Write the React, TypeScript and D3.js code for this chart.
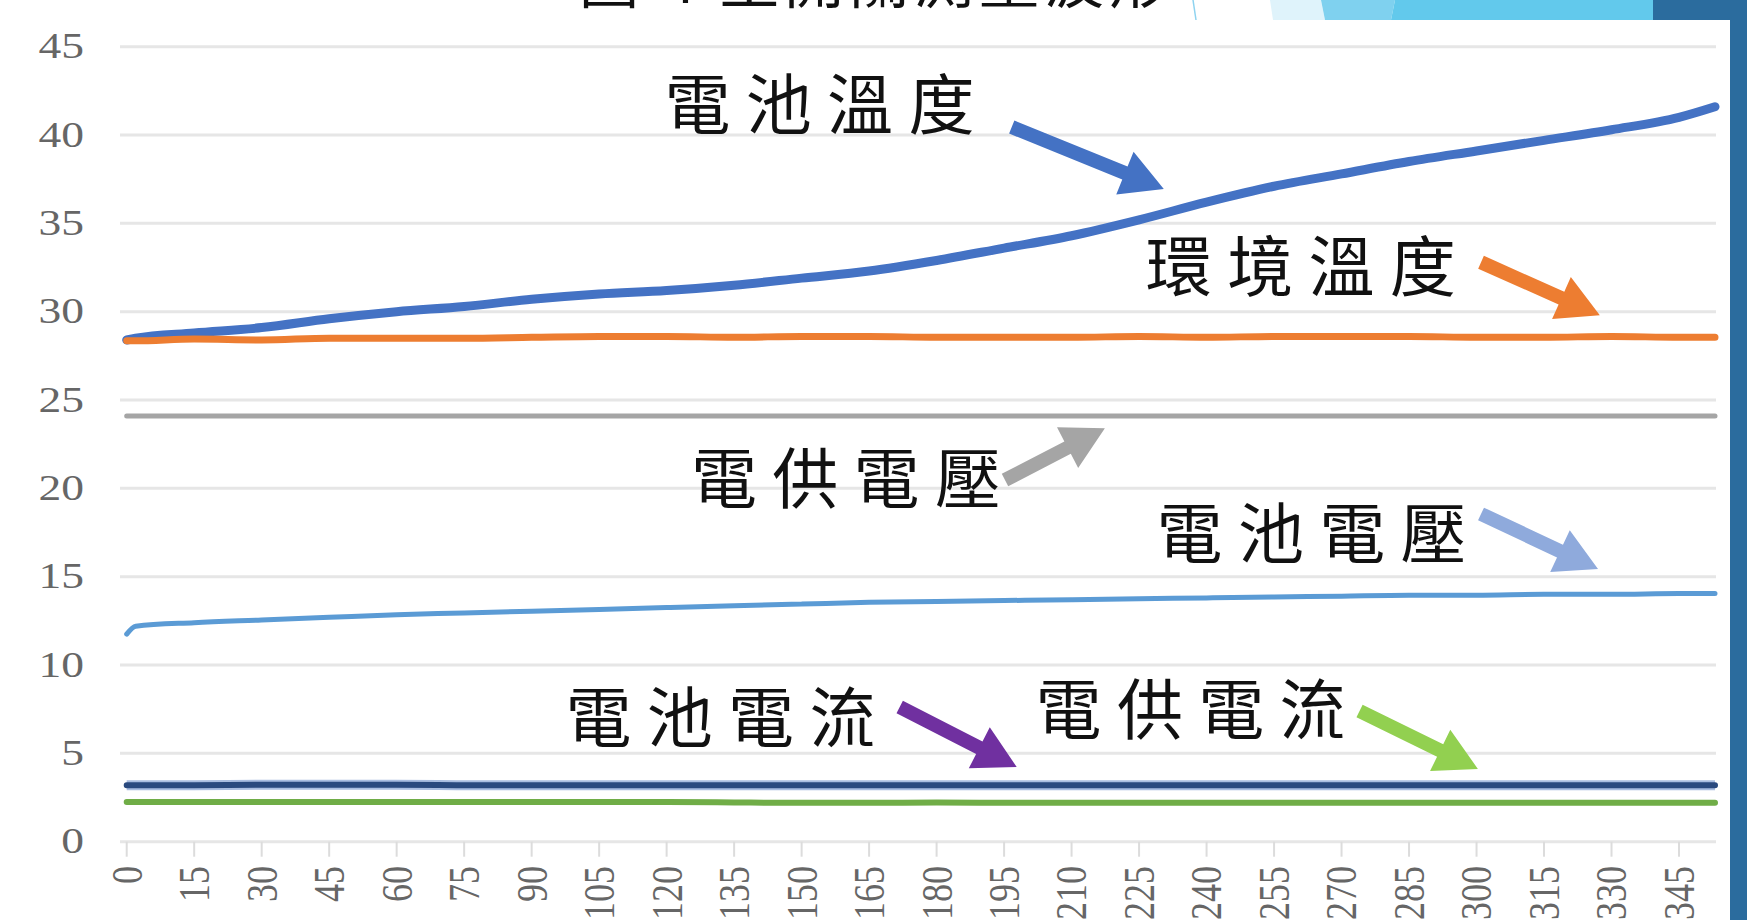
import React from "react";
import * as d3 from "d3";

// Sample times (minutes) and the six measured series
const sampleTimes = [0, 2, 15, 30, 45, 60, 75, 90, 105, 120, 135, 150, 165, 180, 195, 210, 225, 240, 255, 270, 285, 300, 315, 330, 345, 353];
const batteryTemp = [28.4, 28.5, 28.8, 29.1, 29.6, 30.0, 30.3, 30.7, 31.0, 31.2, 31.5, 31.9, 32.3, 32.9, 33.6, 34.3, 35.2, 36.2, 37.1, 37.8, 38.5, 39.1, 39.7, 40.3, 41.0, 41.6];
const ambientTemp = [28.35, 28.35, 28.45, 28.4, 28.5, 28.5, 28.5, 28.55, 28.6, 28.6, 28.55, 28.6, 28.6, 28.55, 28.55, 28.55, 28.6, 28.55, 28.6, 28.6, 28.6, 28.55, 28.55, 28.6, 28.55, 28.55];
const supplyVoltage = [24.1, 24.1, 24.1, 24.1, 24.1, 24.1, 24.1, 24.1, 24.1, 24.1, 24.1, 24.1, 24.1, 24.1, 24.1, 24.1, 24.1, 24.1, 24.1, 24.1, 24.1, 24.1, 24.1, 24.1, 24.1, 24.1];
const batteryVoltage = [11.75, 12.2, 12.4, 12.55, 12.7, 12.85, 12.95, 13.05, 13.15, 13.25, 13.35, 13.45, 13.55, 13.6, 13.65, 13.7, 13.75, 13.8, 13.85, 13.9, 13.95, 13.95, 14.0, 14.0, 14.05, 14.05];
const batteryCurrent = [3.2, 3.2, 3.2, 3.22, 3.22, 3.22, 3.2, 3.2, 3.2, 3.2, 3.2, 3.2, 3.2, 3.2, 3.2, 3.2, 3.2, 3.2, 3.2, 3.2, 3.2, 3.2, 3.2, 3.2, 3.2, 3.2];
const supplyCurrent = [2.25, 2.25, 2.25, 2.25, 2.25, 2.25, 2.25, 2.25, 2.25, 2.25, 2.22, 2.2, 2.2, 2.22, 2.2, 2.2, 2.2, 2.2, 2.2, 2.2, 2.2, 2.2, 2.2, 2.2, 2.2, 2.2];

const xTickLabels = [0, 15, 30, 45, 60, 75, 90, 105, 120, 135, 150, 165, 180, 195, 210, 225, 240, 255, 270, 285, 300, 315, 330, 345];
const yTickLabels = [0, 5, 10, 15, 20, 25, 30, 35, 40, 45];

const seriesNames = ["電池溫度", "環境溫度", "電供電壓", "電池電壓", "電池電流", "電供電流"];

// Callout positions in data units: label anchor (time, value), arrow start and arrow tip
const labelAt: [number, number][] = [[119.5, 42.0], [226.5, 32.8], [125.4, 20.8], [228.9, 17.7], [97.5, 7.3], [202, 7.74]];
const arrowFrom: [number, number][] = [[196.7, 40.45], [301, 32.8], [195.2, 20.47], [301, 18.55], [171.8, 7.62], [274, 7.4]];
const arrowTo: [number, number][] = [[230.5, 36.95], [327.4, 29.8], [217.4, 23.4], [327, 15.44], [197.8, 4.23], [300.3, 4.12]];

const W = 1747;
const H = 920;

const x = d3.scaleLinear().domain([0, 353]).range([126.7, 1715]);
const y = d3.scaleLinear().domain([0, 45]).range([841.7, 46.7]);

const lineColors = ["#4472C4", "#ED7D31", "#A5A5A5", "#5B9BD5", "#2A4A7F", "#70AD47"];
const lineWidths = [9, 7, 5, 5, 6, 6];
const arrowColors = ["#4472C4", "#ED7D31", "#A5A5A5", "#8FAADC", "#7030A0", "#92D050"];

function arrowPath(x1: number, y1: number, x2: number, y2: number, shaft = 14, headW = 46, headL = 42) {
  const dx = x2 - x1;
  const dy = y2 - y1;
  const len = Math.hypot(dx, dy);
  const ux = dx / len, uy = dy / len;
  const px = -uy, py = ux;
  const bx = x2 - ux * headL, by = y2 - uy * headL;
  const pts: [number, number][] = [
    [x1 + px * shaft / 2, y1 + py * shaft / 2],
    [bx + px * shaft / 2, by + py * shaft / 2],
    [bx + px * headW / 2, by + py * headW / 2],
    [x2, y2],
    [bx - px * headW / 2, by - py * headW / 2],
    [bx - px * shaft / 2, by - py * shaft / 2],
    [x1 - px * shaft / 2, y1 - py * shaft / 2],
  ];
  return "M" + pts.map((p) => p.join(",")).join("L") + "Z";
}

export default function App() {
  const series = [batteryTemp, ambientTemp, supplyVoltage, batteryVoltage, batteryCurrent, supplyCurrent];
  const line = d3
    .line<number>()
    .x((_, i) => x(sampleTimes[i]))
    .y((d) => y(d))
    .curve(d3.curveMonotoneX);

  const serif = "'Liberation Serif', 'Times New Roman', serif";
  const cjk = "'Noto Sans CJK TC', 'Noto Sans CJK SC', sans-serif";

  return (
    <div style={{ position: "absolute", left: 0, top: 0, width: W, height: H, overflow: "hidden", background: "#fff" }}>
      <svg width={W} height={H} viewBox={`0 0 ${W} ${H}`}>
        <rect x={0} y={0} width={W} height={H} fill="#ffffff" />

        {/* slide decoration along the top right edge */}
        <line x1={1193} y1={0} x2={1196} y2={20} stroke="#8ED3F0" strokeWidth={1.5} />
        <polygon points="1270,0 1321,0 1325,20 1273,20" fill="#DFF3FB" />
        <polygon points="1321,0 1395,0 1391,20 1325,20" fill="#7FD1EF" />
        <polygon points="1395,0 1653,0 1653,20 1391,20" fill="#62C9EC" />
        <rect x={1653} y={0} width={W - 1653} height={20} fill="#2B6C9E" />
        <rect x={1730} y={0} width={W - 1730} height={H} fill="#2B6C9E" />

        {/* title, running off the top edge of the slide */}
        <text x={579} y={3} fontFamily={cjk} fontSize={60} fill="#111" textLength={590} lengthAdjust="spacing">
          圖 4 主開關測量波形
        </text>

        {/* horizontal gridlines */}
        {yTickLabels.map((v) => (
          <line key={"g" + v} x1={120} x2={1716} y1={y(v)} y2={y(v)} stroke="#E6E6E6" strokeWidth={3} />
        ))}
        {/* category tick marks */}
        {xTickLabels.map((t) => (
          <line key={"t" + t} x1={x(t)} x2={x(t)} y1={y(0)} y2={y(0) + 15} stroke="#DCDCDC" strokeWidth={2} />
        ))}

        {/* y tick labels */}
        {yTickLabels.map((v) => (
          <text
            key={"yl" + v}
            transform={`translate(84,${y(v)}) scale(1.3,1)`}
            textAnchor="end"
            dominantBaseline="central"
            fontFamily={serif}
            fontSize={35}
            fill="#666666"
          >
            {v}
          </text>
        ))}

        {/* x tick labels, rotated */}
        {xTickLabels.map((t) => (
          <text
            key={"xl" + t}
            transform={`translate(${x(t)},866) rotate(-90) scale(1,1.25)`}
            textAnchor="end"
            dominantBaseline="central"
            fontFamily={serif}
            fontSize={36}
            fill="#666666"
          >
            {t}
          </text>
        ))}

        {/* series lines */}
        <path d={line(batteryCurrent) || ""} fill="none" stroke="#A9BDE0" strokeWidth={10} />
        {series.map((s, i) => (
          <path
            key={"s" + i}
            d={line(s) || ""}
            fill="none"
            stroke={lineColors[i]}
            strokeWidth={lineWidths[i]}
            strokeLinejoin="round"
            strokeLinecap="round"
          />
        ))}

        {/* callout labels with arrows */}
        {seriesNames.map((name, i) => (
          <g key={"c" + i}>
            <path
              d={arrowPath(x(arrowFrom[i][0]), y(arrowFrom[i][1]), x(arrowTo[i][0]), y(arrowTo[i][1]))}
              fill={arrowColors[i]}
            />
            <text
              x={x(labelAt[i][0])}
              y={y(labelAt[i][1])}
              dominantBaseline="central"
              fontFamily={cjk}
              fontSize={66}
              fill="#111"
              textLength={310}
              lengthAdjust="spacing"
            >
              {name}
            </text>
          </g>
        ))}
      </svg>
    </div>
  );
}
